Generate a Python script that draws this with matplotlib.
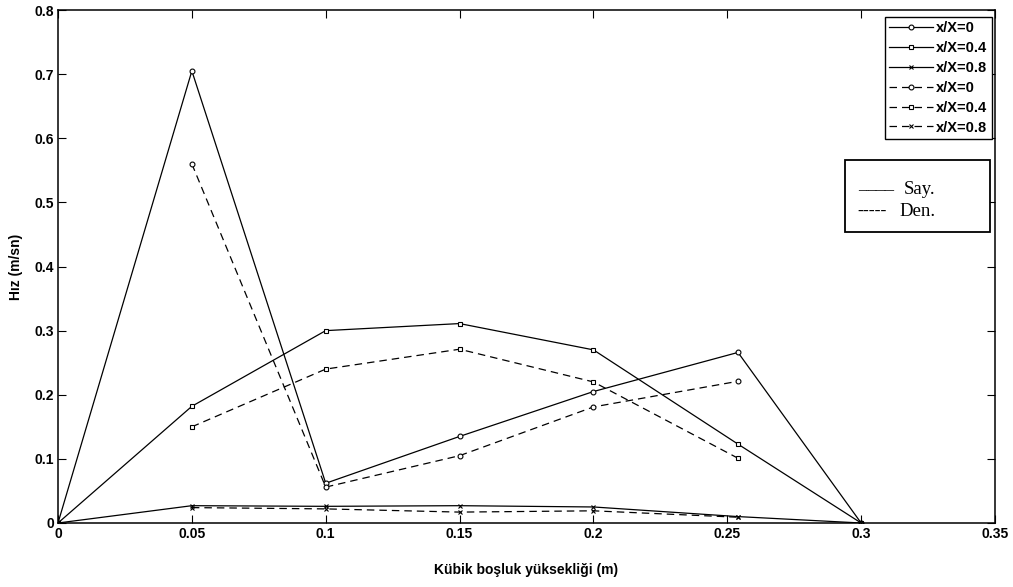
import matplotlib
matplotlib.use("Agg")
import matplotlib.pyplot as plt
from matplotlib.patches import Rectangle

x_say = [0, 0.05, 0.1, 0.15, 0.2, 0.254, 0.3]
say_0 = [0, 0.705, 0.062, 0.135, 0.205, 0.266, 0]
say_04 = [0, 0.182, 0.300, 0.311, 0.270, 0.123, 0]
say_08 = [0, 0.027, 0.026, 0.027, 0.025, 0.010, 0]

x_den = [0.05, 0.1, 0.15, 0.2, 0.254]
den_0 = [0.560, 0.056, 0.105, 0.181, 0.221]
den_04 = [0.150, 0.240, 0.271, 0.220, 0.101]
den_08 = [0.024, 0.022, 0.017, 0.019, 0.009]

labels = ["x/X=0", "x/X=0.4", "x/X=0.8", "x/X=0", "x/X=0.4", "x/X=0.8"]
xticks = [0, 0.05, 0.1, 0.15, 0.2, 0.25, 0.3, 0.35]
yticks = [0, 0.1, 0.2, 0.3, 0.4, 0.5, 0.6, 0.7, 0.8]

plt.rcParams['font.family'] = ['Liberation Sans', 'DejaVu Sans']

fig = plt.figure(figsize=(10.13, 5.87), dpi=100)
ax = fig.add_axes([58/1013, 64/587, (995-58)/1013, (523-10)/587])

dash = (0, (6, 4))
mk = dict(markersize=3.5, markerfacecolor='white', markeredgewidth=0.8)
ax.plot(x_say, say_0, color='black', lw=0.9, marker='o', **mk, label=labels[0])
ax.plot(x_say, say_04, color='black', lw=0.9, marker='s', **mk, label=labels[1])
ax.plot(x_say, say_08, color='black', lw=0.9, marker='x', markersize=2.5, markeredgewidth=0.8, label=labels[2])
ax.plot(x_den, den_0, color='black', lw=0.9, ls=dash, marker='o', **mk, label=labels[3])
ax.plot(x_den, den_04, color='black', lw=0.9, ls=dash, marker='s', **mk, label=labels[4])
ax.plot(x_den, den_08, color='black', lw=0.9, ls=dash, marker='x', markersize=2.5, markeredgewidth=0.8, label=labels[5])

ax.set_xlim(0, 0.35)
ax.set_ylim(0, 0.8)
ax.set_xticks(xticks)
ax.set_xticklabels([f"{v:g}" for v in xticks], fontsize=10, fontweight='bold')
ax.set_yticks(yticks)
ax.set_yticklabels([f"{v:g}" for v in yticks], fontsize=10, fontweight='bold')
ax.tick_params(direction='in', top=True, right=True, length=6, width=0.8, pad=3)
for s in ax.spines.values():
    s.set_linewidth(1.1)

ax.set_xlabel("Kübik boşluk yüksekliği (m)", fontsize=10, fontweight='bold', labelpad=16)
ax.set_ylabel("Hız (m/sn)", fontsize=10, fontweight='bold', labelpad=8)

leg = ax.legend(loc='upper right', bbox_to_anchor=(0.9968, 0.9864), prop={'size': 10.5, 'weight': 'bold'},
                fancybox=False, edgecolor='black', framealpha=1, handlelength=3.0,
                handletextpad=0.25, labelspacing=0.4, borderpad=0.3, borderaxespad=0)
leg.get_frame().set_linewidth(1.0)

ax.add_patch(Rectangle(((845-58)/937, (523-232)/513), (990-845)/937, (232-160)/513,
                       transform=ax.transAxes, facecolor='white', edgecolor='black',
                       linewidth=1.3, zorder=5))
serif = ['Liberation Serif', 'DejaVu Serif']
ax.text((858-58)/937, (523-185)/513, "____", transform=ax.transAxes, fontsize=13,
        family=serif, ha='left', va='center', zorder=6)
ax.text((904-58)/937, (523-189)/513, "Say.", transform=ax.transAxes, fontsize=13.5,
        family=serif, ha='left', va='center', zorder=6)
ax.text((857-58)/937, (523-211)/513, "-----", transform=ax.transAxes, fontsize=13,
        family=serif, ha='left', va='center', zorder=6)
ax.text((899-58)/937, (523-211)/513, "Den.", transform=ax.transAxes, fontsize=13.5,
        family=serif, ha='left', va='center', zorder=6)

fig.savefig("out.png", dpi=100)
